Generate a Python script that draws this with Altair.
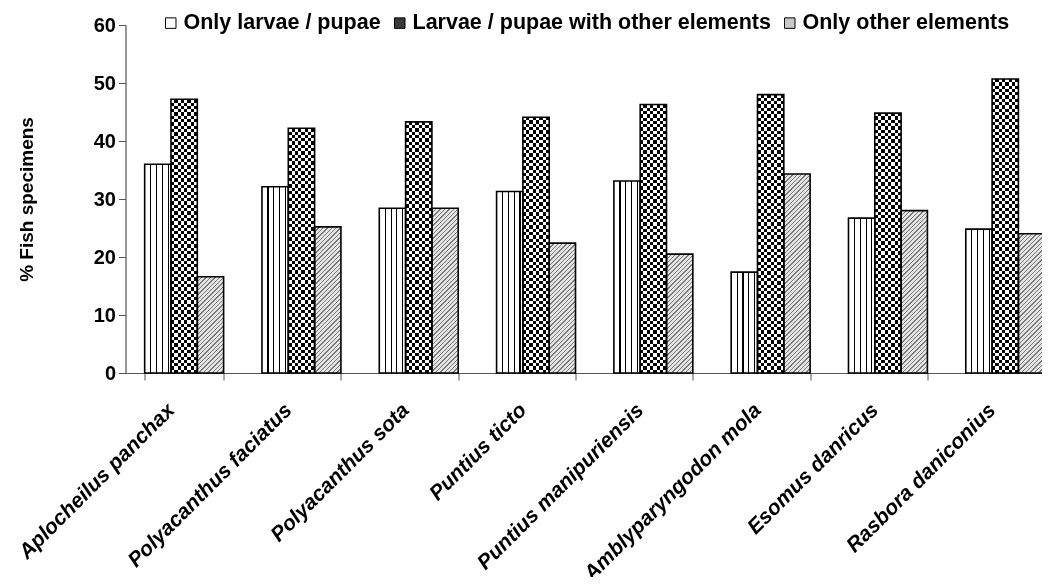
import altair as alt
import pandas as pd

# ---------------- data ----------------
species = [
    "Aplocheilus panchax",
    "Polyacanthus faciatus",
    "Polyacanthus sota",
    "Puntius ticto",
    "Puntius manipuriensis",
    "Amblyparyngodon mola",
    "Esomus danricus",
    "Rasbora daniconius",
]
series_names = [
    "Only larvae / pupae",
    "Larvae / pupae with other elements",
    "Only other elements",
]
only_larvae = [36.0, 32.1, 28.4, 31.3, 33.1, 17.4, 26.7, 24.8]
larvae_other = [47.2, 42.2, 43.3, 44.1, 46.3, 48.0, 44.8, 50.7]
only_other = [16.6, 25.2, 28.4, 22.4, 20.5, 34.3, 28.0, 24.0]
y_ticks = [0, 10, 20, 30, 40, 50, 60]

rows = []
for i, sp in enumerate(species):
    for s, vals in zip(series_names, [only_larvae, larvae_other, only_other]):
        rows.append({"species": sp, "series": s, "value": vals[i]})
df = pd.DataFrame(rows)

# ---------------- layout constants ----------------
STEP = 117.3
PAD_IN = 0.327
W = STEP * len(species)
H = 348
Y_MAX = 60
BAR_W = STEP * (1 - PAD_IN) / 3
FONT = "Liberation Sans"
CHECK_COLS = 8

# ---------------- pattern gradients ----------------
def stops_from(segments):
    out = []
    for t0, t1, col in segments:
        out.append({"offset": max(0.0, min(1.0, t0)), "color": col})
        out.append({"offset": max(0.0, min(1.0, t1)), "color": col})
    return out


def vstripe_grad():
    lines = [0.23, 0.45, 0.67, 0.89]
    hw = 0.022
    segs = []
    prev = 0.0
    for f in lines:
        segs.append((prev, f - hw, "#ffffff"))
        segs.append((f - hw, f + hw, "#000000"))
        prev = f + hw
    segs.append((prev, 1.0, "#ffffff"))
    return {"gradient": "linear", "x1": 0, "y1": 0, "x2": 1, "y2": 0,
            "stops": stops_from(segs)}


def checker_cols_grad(n=CHECK_COLS):
    segs = [(k / n, (k + 1) / n, "#000000" if k % 2 == 0 else "#ffffff") for k in range(n)]
    return {"gradient": "linear", "x1": 0, "y1": 0, "x2": 1, "y2": 0,
            "stops": stops_from(segs)}


def checker_rows_grad(value, ncols=CHECK_COLS):
    h = value * H / Y_MAX
    cell = BAR_W / ncols
    n = max(1, round(h / cell))
    segs = [(k / n, (k + 1) / n, "#ffffff" if k % 2 == 0 else "#000000") for k in range(n)]
    return {"gradient": "linear", "x1": 0, "y1": 0, "x2": 0, "y2": 1,
            "stops": stops_from(segs)}


def hatch_grad(value, period=4.4, frac=0.32, bg="#e4e4e4", fg="#7a7a7a"):
    h = value * H / Y_MAX
    w = BAR_W
    total = w + h
    c = total / (w * w + h * h)
    segs = []
    k = 0
    while k * period < total:
        a = k * period / total
        b = (k * period + frac * period) / total
        e = (k + 1) * period / total
        segs.append((a, b, fg))
        segs.append((b, e, bg))
        k += 1
    return {"gradient": "linear", "x1": 0, "y1": 0, "x2": w * c, "y2": h * c,
            "stops": stops_from(segs)}


# ---------------- encodings ----------------
x_enc = alt.X(
    "species:N",
    sort=species,
    scale=alt.Scale(domain=species, paddingInner=PAD_IN, paddingOuter=PAD_IN / 2),
    axis=alt.Axis(
        title=None,
        labelAngle=315,
        labelAlign="right",
        labelBaseline="top",
        labelFont=FONT,
        labelFontSize=21,
        labelFontWeight="bold",
        labelFontStyle="italic",
        labelColor="#000000",
        labelOffset=-21,
        labelPadding=19,
        labelLimit=400,
        tickBand="extent",
        tickSize=7,
        tickColor="#555555",
        domainColor="#555555",
        domainWidth=1.2,
        labelOverlap=False,
    ),
)
xoff_enc = alt.XOffset(
    "series:N",
    sort=series_names,
    scale=alt.Scale(domain=series_names, paddingInner=0, paddingOuter=0),
)
y_enc = alt.Y(
    "value:Q",
    scale=alt.Scale(domain=[0, Y_MAX], nice=False),
    axis=alt.Axis(
        values=y_ticks,
        grid=False,
        title="% Fish specimens",
        titleFont=FONT,
        titleFontSize=19,
        titleFontWeight="bold",
        titleColor="#000000",
        titleAngle=270,
        titleAlign="center",
        titleBaseline="alphabetic",
        titleX=-93,
        titleY=H / 2,
        labelFont=FONT,
        labelFontSize=20,
        labelFontWeight="bold",
        labelColor="#000000",
        labelPadding=3,
        tickSize=7,
        tickColor="#555555",
        domainColor="#555555",
        domainWidth=1.2,
    ),
)

color_enc = alt.Color(
    "series:N",
    sort=series_names,
    scale=alt.Scale(domain=series_names, range=["#ffffff", "#3a3a3a", "#c8c8c8"]),
    legend=alt.Legend(
        title=None,
        orient="none",
        direction="horizontal",
        legendX=34.5,
        legendY=-13,
        padding=0,
        symbolType="square",
        symbolSize=110,
        symbolStrokeColor="#000000",
        symbolStrokeWidth=1,
        symbolOpacity=1,
        labelFont=FONT,
        labelFontSize=21.5,
        labelFontWeight="bold",
        labelColor="#000000",
        labelOffset=2,
        labelLimit=600,
        columnPadding=8,
    ),
)

base = alt.Chart(df)

layers = []
# base layer (carries the legend)
layers.append(
    base.mark_bar(strokeWidth=0, opacity=1).encode(x=x_enc, xOffset=xoff_enc, y=y_enc, color=color_enc)
)
# vertical stripes
layers.append(
    base.transform_filter(alt.datum.series == series_names[0])
    .mark_bar(fill=vstripe_grad(), strokeWidth=0)
    .encode(x=x_enc, xOffset=xoff_enc, y=y_enc)
)
# checker: columns then rows with difference blend
layers.append(
    base.transform_filter(alt.datum.series == series_names[1])
    .mark_bar(fill=checker_cols_grad(), strokeWidth=0)
    .encode(x=x_enc, xOffset=xoff_enc, y=y_enc)
)
for sp, v in zip(species, larvae_other):
    layers.append(
        base.transform_filter(
            (alt.datum.series == series_names[1]) & (alt.datum.species == sp)
        )
        .mark_bar(fill=checker_rows_grad(v), strokeWidth=0, blend="difference")
        .encode(x=x_enc, xOffset=xoff_enc, y=y_enc)
    )
# diagonal hatch
for sp, v in zip(species, only_other):
    layers.append(
        base.transform_filter(
            (alt.datum.series == series_names[2]) & (alt.datum.species == sp)
        )
        .mark_bar(fill=hatch_grad(v), strokeWidth=0)
        .encode(x=x_enc, xOffset=xoff_enc, y=y_enc)
    )
# outlines
layers.append(
    base.mark_bar(fill="transparent", stroke="#000000", strokeWidth=1.6)
    .encode(x=x_enc, xOffset=xoff_enc, y=y_enc)
)

LEFT = 117.5
TOP = 17
SVG_W = 1034
SVG_H = 569

chart = (
    alt.layer(*layers)
    .properties(
        width=W,
        height=H,
        autosize=alt.AutoSizeParams(type="none"),
        padding={"left": LEFT, "top": TOP, "right": SVG_W - LEFT - W, "bottom": SVG_H - TOP - H},
        background="#ffffff",
    )
    .configure_view(stroke=None)
)

chart.save("out.html", embed_options={"renderer": "svg", "actions": False})
